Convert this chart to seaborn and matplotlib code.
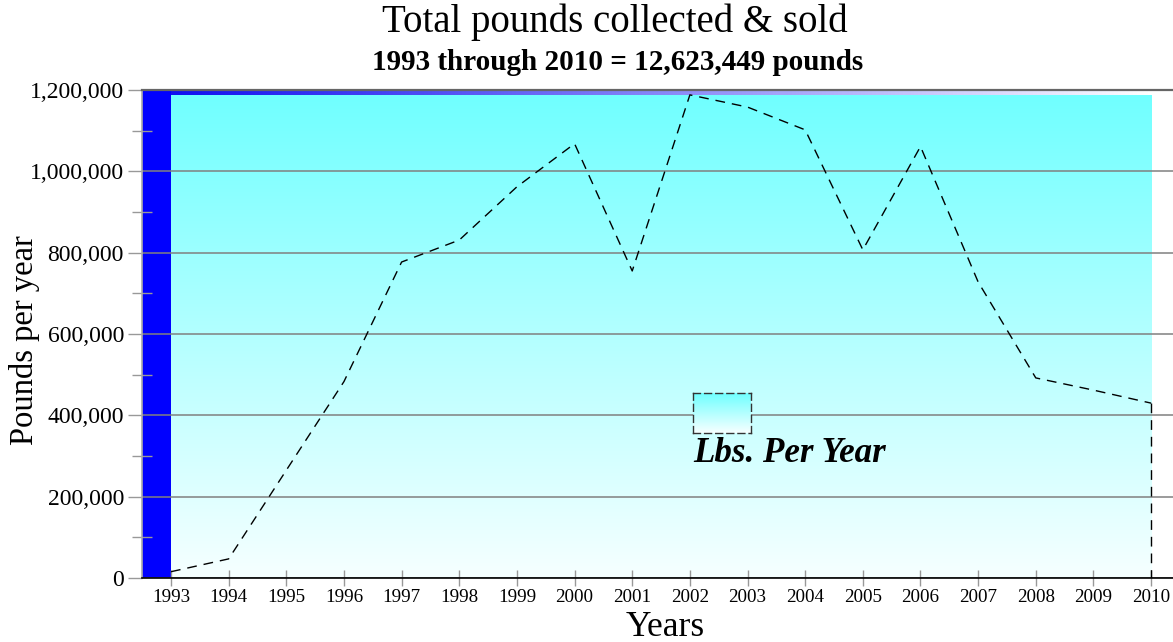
import numpy as np
import matplotlib
matplotlib.use("Agg")
import matplotlib.pyplot as plt
import seaborn as sns
from matplotlib.colors import LinearSegmentedColormap
from matplotlib.ticker import FuncFormatter, MultipleLocator

# Yearly totals (pounds)
years = [1993, 1994, 1995, 1996, 1997, 1998, 1999, 2000, 2001,
         2002, 2003, 2004, 2005, 2006, 2007, 2008, 2009, 2010]
pounds = [15500, 47000, 265000, 483000, 777000, 831000, 962000, 1068000, 755000,
          1188000, 1158000, 1102000, 807000, 1061000, 728000, 492000, 462000, 430000]
y_ticks = [0, 200000, 400000, 600000, 800000, 1000000, 1200000]

title = "Total pounds collected & sold"
subtitle = "1993 through 2010 = 12,623,449 pounds"
series_label = "Lbs. Per Year"
x_label = "Years"
y_label = "Pounds per year"

sns.set_style("white")
plt.rcParams["font.family"] = ["Liberation Serif", "DejaVu Serif"]
plt.rcParams["text.color"] = "black"
plt.rcParams["axes.labelcolor"] = "black"
plt.rcParams["xtick.labelcolor"] = "black"
plt.rcParams["ytick.labelcolor"] = "black"

W, H = 1173, 642
fig = plt.figure(figsize=(W / 100, H / 100), dpi=100)
ax = fig.add_axes([142 / W, 1 - 578 / H, (W - 142) / W, (578 - 90) / H])

x_lo = years[0] - 0.503
x_hi = years[-1] + 0.38
y_hi = y_ticks[-1]
peak = max(pounds)

# area fill: cyan at the top fading to white at the baseline
fill_cmap = LinearSegmentedColormap.from_list("fill", ["#f6ffff", "#70ffff"])
ax.imshow(np.linspace(0, 1, 256).reshape(-1, 1), cmap=fill_cmap, origin="lower",
          extent=[years[0], years[-1], 0, peak], aspect="auto", zorder=1)

# thin top band fading from blue to white
band_cmap = LinearSegmentedColormap.from_list("band", ["#1010f0", "#ffffff"])
ax.imshow(np.linspace(0, 1, 256).reshape(1, -1), cmap=band_cmap,
          extent=[years[0], years[-1], peak, y_hi], aspect="auto", zorder=1)

# blue side wall
ax.axvspan(x_lo, years[0], color="#0000ff", zorder=1, lw=0)

# series line
sns.lineplot(x=years, y=pounds, ax=ax, color="black", lw=1.0,
             linestyle=(0, (7, 5)), zorder=4)
ax.plot([years[-1], years[-1]], [pounds[-1], 0], color="black", lw=1.0,
        linestyle=(0, (7, 5)), zorder=4)

ax.set_xlim(x_lo, x_hi)
ax.set_ylim(0, y_hi)

ax.set_axisbelow(False)
ax.grid(axis="y", color="#808080", lw=1.1)
ax.grid(axis="x", visible=False)

ax.set_xticks(years)
ax.set_xticklabels([str(y) for y in years])
ax.set_yticks(y_ticks)
ax.yaxis.set_minor_locator(MultipleLocator(100000))
ax.yaxis.set_major_formatter(FuncFormatter(lambda v, p: f"{v:,.0f}"))

ax.tick_params(axis="y", which="major", direction="out", length=10, width=1,
               color="#999999", labelsize=17, pad=3, left=True)
ax.tick_params(axis="y", which="minor", direction="inout", length=13.7, width=1,
               color="#999999", left=True)
ax.tick_params(axis="x", which="major", direction="inout", length=12.2, width=1,
               color="#999999", labelsize=13.7, pad=1.5, bottom=True)

ax.spines["right"].set_visible(False)
ax.spines["top"].set_color("#666666")
ax.spines["top"].set_linewidth(1.6)
ax.spines["left"].set_color("#aaaaaa")
ax.spines["left"].set_linewidth(1.2)
ax.spines["bottom"].set_color("black")
ax.spines["bottom"].set_linewidth(1.2)
for s in ax.spines.values():
    s.set_zorder(5)

ax.set_xlabel(x_label, fontsize=25.5, va="center")
ax.xaxis.set_label_coords((665 - 142) / (W - 142), (578 - 627) / (578 - 90))
ax.set_ylabel(y_label, fontsize=23.5, va="center")
ax.yaxis.set_label_coords((25 - 142) / (W - 142), (578 - 340) / (578 - 90))

fig.text(615 / W, 1 - 22 / H, title, ha="center", va="center", fontsize=28)
fig.text(618 / W, 1 - 63 / H, subtitle, ha="center", va="center",
         fontsize=21, fontweight="bold")

# legend swatch and label
lax = fig.add_axes([693 / W, 1 - 433 / H, 58 / W, 40 / H])
lax.imshow(np.linspace(0, 1, 64).reshape(-1, 1), cmap=fill_cmap, origin="lower",
           extent=[0, 1, 0, 1], aspect="auto")
lax.set_xticks([])
lax.set_yticks([])
for s in lax.spines.values():
    s.set_linestyle((0, (5, 3)))
    s.set_color("#333333")
    s.set_linewidth(1.0)
fig.text(693 / W, 1 - 453 / H, series_label, ha="left", va="center",
         fontsize=25.2, fontweight="bold", fontstyle="italic")

fig.savefig("out.png", dpi=100)
